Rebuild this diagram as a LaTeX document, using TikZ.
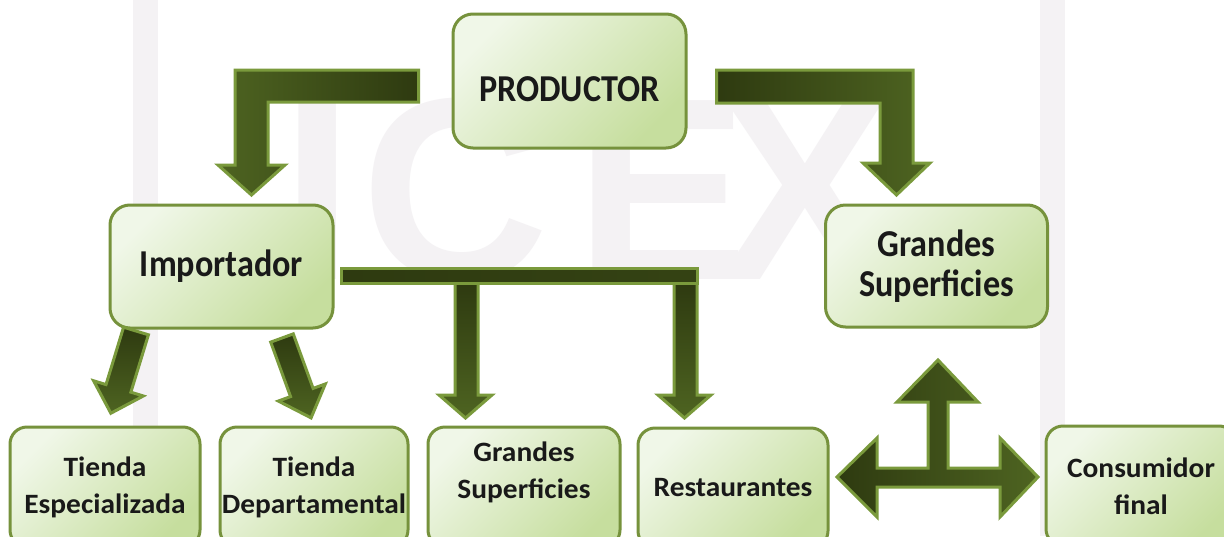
\documentclass[tikz,border=0pt]{standalone}
\usepackage{fontspec}
\newfontfamily\calA[FakeStretch=0.9]{Carlito}
\newfontfamily\calB[FakeStretch=1.05]{Carlito}
\newfontfamily\wmfont{Liberation Sans}
\definecolor{boxline}{HTML}{76923C}
\definecolor{boxA}{HTML}{F0F7E8}
\definecolor{boxB}{HTML}{C6DE9E}
\definecolor{arrDark}{HTML}{2E3A10}
\definecolor{arrMid}{HTML}{4E6421}
\definecolor{arrline}{HTML}{7A9A3C}
\definecolor{wm}{HTML}{F4F2F4}
\tikzset{
  box/.style={draw=boxline, line width=3pt, rounded corners=20pt,
    top color=boxA, bottom color=boxB, shading angle=45,
    inner sep=0pt, align=center, text=black!90},
  midbox/.style={box, font=\calA\bfseries\fontsize{38}{40}\selectfont},
  lowbox/.style={box, rounded corners=17pt, minimum width=190pt, minimum height=120pt,
    font=\calB\bfseries\fontsize{28}{37}\selectfont},
  blockarrow/.style={draw=arrline, line width=3pt, line join=miter},
}
\begin{document}
\begin{tikzpicture}[x=1pt,y=-1pt]
\useasboundingbox (0,0) rectangle (1224,536);
\clip (0,0) rectangle (1224,536);
\fill[white] (0,0) rectangle (1224,536);
% watermark
\fill[wm] (133,0) rectangle (158,536);
\fill[wm] (1040,0) rectangle (1065,536);
\node[anchor=base west, inner sep=0pt, text=wm, font=\wmfont\bfseries\fontsize{260}{260}\selectfont] (wmark) at (281,279) {I\kern8pt C\kern26pt E\kern-30pt X};

% nodes
\node[midbox, minimum width=233pt, minimum height=134pt, text height=40pt, text depth=0pt] (prod) at (569.5,81) {PRODUCTOR};
\node[midbox, minimum width=223pt, minimum height=123pt] (imp) at (221.5,266.5) {Importador};
\node[midbox, minimum width=222pt, minimum height=122pt] (gsr) at (936.5,266) {Grandes\\Superficies};
\node[lowbox] (te) at (105,487) {Tienda\\Especializada};
\node[lowbox, minimum width=188pt] (td) at (314,487) {Tienda\\Departamental};
\node[lowbox, minimum width=192pt, text depth=33pt] (gsb) at (524,487) {Grandes\\Superficies};
\node[lowbox] (rest) at (733,488) {Restaurantes};
\node[lowbox] (cons) at (1141,486) {Consumidor\\final};

% bent arrows from PRODUCTOR
\path[blockarrow, left color=arrMid, right color=arrDark]
  ([xshift=-33pt]prod.west |- 0,70) -- (235,70) -- (235,165) -- (218,165) -- (251.5,195)
  -- (285,165) -- (268,165) -- (268,102) -- ([xshift=-33pt]prod.west |- 0,102) -- cycle;
\path[blockarrow, left color=arrDark, right color=arrMid]
  ([xshift=29pt]prod.east |- 0,70) -- (913,70) -- (913,163) -- (930,163) -- (896.5,195)
  -- (863,163) -- (880,163) -- (880,103) -- ([xshift=29pt]prod.east |- 0,103) -- cycle;

% arrows from Importador to lower boxes
\path[blockarrow, top color=arrDark, bottom color=arrMid]
  (455,283) -- (478,283) -- (478,395) -- (492,395) -- (465.5,418)
  -- (439,395) -- (455,395) -- cycle;
\path[blockarrow, top color=arrDark, bottom color=arrMid]
  (674,283) -- (697,283) -- (697,395) -- (711,395) -- (684.5,418)
  -- (658,395) -- (674,395) -- cycle;
\path[blockarrow, left color=arrDark, right color=arrDark!80!arrMid]
  ([xshift=7pt]imp.east |- 0,268) -- (697,268) -- (697,283) -- ([xshift=7pt]imp.east |- 0,283) -- cycle;

% diagonal arrows
\begin{scope}[shift={(136,331)}, rotate=-17]
\path[blockarrow, top color=arrDark, bottom color=arrMid]
  (-13,0) -- (-13,60) -- (-26,60) -- (0,86) -- (26,60) -- (13,60) -- (13,0) -- cycle;
\end{scope}
\begin{scope}[shift={(282,338)}, rotate=20]
\path[blockarrow, top color=arrDark, bottom color=arrMid]
  (-12,0) -- (-12,58) -- (-25,58) -- (0,85) -- (25,58) -- (12,58) -- (12,0) -- cycle;
\end{scope}

% three-way arrow
\path[blockarrow, left color=arrDark, right color=arrMid]
  (837,477) -- (877,438) -- (877,468) -- (928,468) -- (928,402) -- (897,402)
  -- (938,360) -- (978,402) -- (948,402) -- (948,468) -- (1000,468) -- (1000,438)
  -- (1038,477) -- (1000,517) -- (1000,487) -- (877,487) -- (877,517) -- cycle;
\end{tikzpicture}
\end{document}
